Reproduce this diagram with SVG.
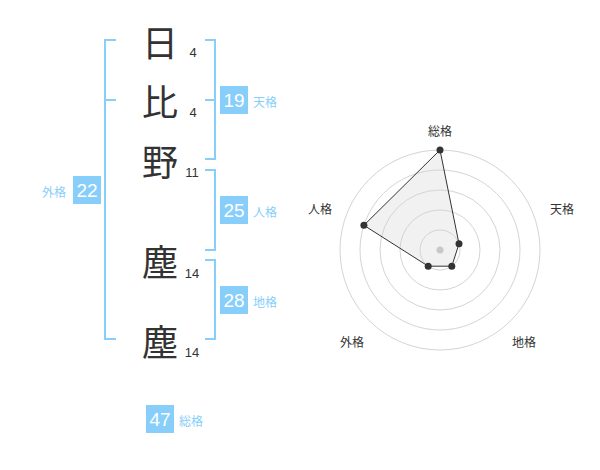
<svg xmlns="http://www.w3.org/2000/svg" width="600" height="470" viewBox="0 0 600 470">
<style>
.ch{font-family:"Noto Sans CJK JP","Noto Sans CJK SC",sans-serif;font-size:36px;fill:#333;text-anchor:middle;dominant-baseline:central}
.st{font-family:"Liberation Sans",Arial,sans-serif;font-size:13px;fill:#333;text-anchor:middle}
.br{fill:none;stroke:#87cefa;stroke-width:2}
.box{fill:#87cefa}
.bn{font-family:"Liberation Sans",Arial,sans-serif;font-size:19px;fill:#fff;text-anchor:middle}
.bl{font-family:"Noto Sans CJK JP","Noto Sans CJK SC",sans-serif;font-size:12px;fill:#87cefa;dominant-baseline:central}
.rl{font-family:"Noto Sans CJK JP","Noto Sans CJK SC",sans-serif;font-size:12px;fill:#333;text-anchor:middle;dominant-baseline:central}
.ring{fill:none;stroke:#d4d4d4;stroke-width:1}
.pt{fill:#333}
</style>
<rect width="600" height="470" fill="#fff"/>
<g id="chars">
<g id="c1"><text class="ch" x="160" y="41">日</text><text class="st" x="193" y="57">4</text></g>
<g id="c2"><text class="ch" x="160" y="100">比</text><text class="st" x="193" y="117">4</text></g>
<g id="c3"><text class="ch" x="160" y="160">野</text><text class="st" x="192" y="177">11</text></g>
<g id="c4"><text class="ch" x="160" y="260">塵</text><text class="st" x="192" y="278">14</text></g>
<g id="c5"><text class="ch" x="160" y="340">塵</text><text class="st" x="192" y="357">14</text></g>
</g>
<g id="connectors">
<path class="br" d="M116,40 H105 V339 H116 M105,100 H116"/>
<path class="br" d="M205,40 H215 V159 H205 M205,100 H215"/>
<path class="br" d="M205,170 H215 V250 H205"/>
<path class="br" d="M205,260 H215 V339 H205"/>
</g>
<g id="tenkaku"><rect class="box" x="220" y="86" width="28" height="28"/><text class="bn" x="234" y="107">19</text><text class="bl" x="253" y="101">天格</text></g>
<g id="jinkaku"><rect class="box" x="220" y="196" width="28" height="28"/><text class="bn" x="234" y="217">25</text><text class="bl" x="253" y="211">人格</text></g>
<g id="chikaku"><rect class="box" x="220" y="286" width="28" height="28"/><text class="bn" x="234" y="307">28</text><text class="bl" x="253" y="301">地格</text></g>
<g id="gaikaku"><rect class="box" x="73" y="176" width="28" height="28"/><text class="bn" x="87" y="197">22</text><text class="bl" x="66" y="191" text-anchor="end">外格</text></g>
<g id="soukaku"><rect class="box" x="146" y="405" width="28" height="28"/><text class="bn" x="160" y="426">47</text><text class="bl" x="179" y="420">総格</text></g>
<g id="radar">
<polygon points="440,150 459,243.8 451.8,266.2 428.2,266.2 363.9,225.3" fill="#ebebeb" fill-opacity="0.7" stroke="none"/>
<circle class="ring" cx="440" cy="250" r="20"/>
<circle class="ring" cx="440" cy="250" r="40"/>
<circle class="ring" cx="440" cy="250" r="60"/>
<circle class="ring" cx="440" cy="250" r="80"/>
<circle class="ring" cx="440" cy="250" r="100"/>
<polygon points="440,150 459,243.8 451.8,266.2 428.2,266.2 363.9,225.3" fill="none" stroke="#333" stroke-width="1"/>
<circle cx="440" cy="250" r="3.5" fill="#c8c8c8"/>
<circle class="pt" cx="440" cy="150" r="3.5"/>
<circle class="pt" cx="459" cy="243.8" r="3.5"/>
<circle class="pt" cx="451.8" cy="266.2" r="3.5"/>
<circle class="pt" cx="428.2" cy="266.2" r="3.5"/>
<circle class="pt" cx="363.9" cy="225.3" r="3.5"/>
<text class="rl" x="440" y="130">総格</text>
<text class="rl" x="562" y="208">天格</text>
<text class="rl" x="524" y="341">地格</text>
<text class="rl" x="352" y="341">外格</text>
<text class="rl" x="320" y="208">人格</text>
</g>
</svg>
